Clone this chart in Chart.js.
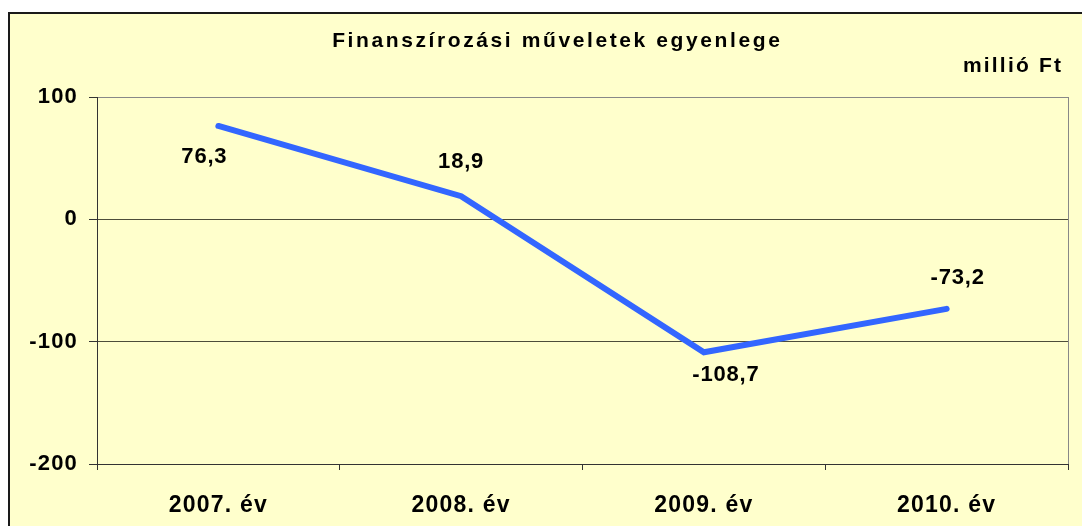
<!DOCTYPE html>
<html>
<head>
<meta charset="utf-8">
<script src="https://cdn.jsdelivr.net/npm/chart.js@4"></script>
<style>
  html, body { margin: 0; padding: 0; background: #fff; }
  #wrap { width: 1082px; height: 526px; position: relative; }
</style>
</head>
<body>
<div id="wrap"><canvas id="myChart"></canvas></div>
<script>
Chart.defaults.font.family = '"Liberation Sans", Arial, sans-serif';
Chart.defaults.font.weight = 'bold';
Chart.defaults.color = '#000';

const title = 'Finanszírozási műveletek egyenlege';
const unit = 'millió Ft';

const labels = ['2007. év', '2008. év', '2009. év', '2010. év'];
const balance = [76.3, 18.9, -108.7, -73.2];
const yTicks = [100, 0, -100, -200];

// where each value label sits relative to its point (px)
const labelShift = [[-14, 31], [0, -34], [22, 23], [11, -31]];

// yellow box, title and unit text
const frame = {
  id: 'frame',
  beforeDraw(chart) {
    const ctx = chart.ctx;
    ctx.save();
    ctx.fillStyle = '#FFFFCC';
    ctx.fillRect(9, 13, chart.width, chart.height);
    ctx.strokeStyle = '#1a1a1a';
    ctx.lineWidth = 2;
    ctx.strokeRect(9, 13, chart.width + 20, chart.height + 20);
    ctx.restore();
    // the old excel text is a bit wider than liberation
    ctx.letterSpacing = '1.2px';
  },
  afterDraw(chart) {
    const ctx = chart.ctx;
    const a = chart.chartArea;
    ctx.save();
    // right border of plot area
    ctx.strokeStyle = '#888';
    ctx.lineWidth = 1;
    ctx.beginPath();
    ctx.moveTo(a.right + 0.5, a.top);
    ctx.lineTo(a.right + 0.5, a.bottom);
    ctx.stroke();

    ctx.fillStyle = '#000';
    ctx.textBaseline = 'alphabetic';
    ctx.textAlign = 'left';
    ctx.font = 'bold 21px "Liberation Sans", Arial, sans-serif';
    ctx.letterSpacing = '2.6px';
    let w = ctx.measureText(title).width - 2.6;
    ctx.fillText(title, 556 - w / 2, 47);
    ctx.letterSpacing = '2.2px';
    w = ctx.measureText(unit).width - 2.2;
    ctx.fillText(unit, 1061 - w, 72);
    ctx.restore();
  }
};

const valueLabels = {
  id: 'valueLabels',
  afterDatasetsDraw(chart) {
    const ctx = chart.ctx;
    const meta = chart.getDatasetMeta(0);
    ctx.save();
    ctx.font = 'bold 22px "Liberation Sans", Arial, sans-serif';
    ctx.letterSpacing = '0.8px';
    ctx.fillStyle = '#000';
    ctx.textAlign = 'center';
    ctx.textBaseline = 'middle';
    meta.data.forEach((pt, i) => {
      const txt = balance[i].toFixed(1).replace('.', ',');
      ctx.fillText(txt, pt.x + labelShift[i][0], pt.y + labelShift[i][1]);
    });
    ctx.restore();
  }
};

const config = {
  type: 'line',
  data: {
    labels: labels,
    datasets: [{
      label: title,
      data: balance,
      borderColor: 'rgb(51,102,255)',
      borderWidth: 6,
      borderCapStyle: 'round',
      borderJoinStyle: 'miter',
      pointRadius: 0,
      tension: 0
    }]
  },
  options: {
    responsive: true,
    maintainAspectRatio: false,
    animation: false,
    layout: {
      padding: { left: 0, top: 97, right: 14, bottom: 0 }
    },
    plugins: {
      legend: { display: false },
      tooltip: { enabled: false }
    },
    scales: {
      x: {
        offset: true,
        afterFit(scale) { scale.height = 62; },
        grid: {
          offset: true,
          drawOnChartArea: false,
          drawTicks: true,
          tickLength: 6,
          color: '#333'
        },
        border: { color: '#333', width: 1 },
        ticks: {
          font: { size: 23, weight: 'bold' },
          color: '#000',
          padding: 22
        }
      },
      y: {
        min: -200,
        max: 100,
        afterFit(scale) { scale.width = 97; },
        afterBuildTicks(scale) {
          scale.ticks = yTicks.map(v => ({ value: v }));
        },
        grid: {
          color: ctx => (ctx.tick && ctx.tick.value === 100) ? '#888' : '#4d4d3a',
          tickColor: '#333',
          tickLength: 8,
          lineWidth: 1
        },
        border: { color: '#333', width: 1 },
        ticks: {
          font: { size: 22, weight: 'bold' },
          color: '#000',
          padding: 11
        }
      }
    }
  },
  plugins: [frame, valueLabels]
};

const myChart = new Chart(document.getElementById('myChart'), config);
</script>
</body>
</html>
